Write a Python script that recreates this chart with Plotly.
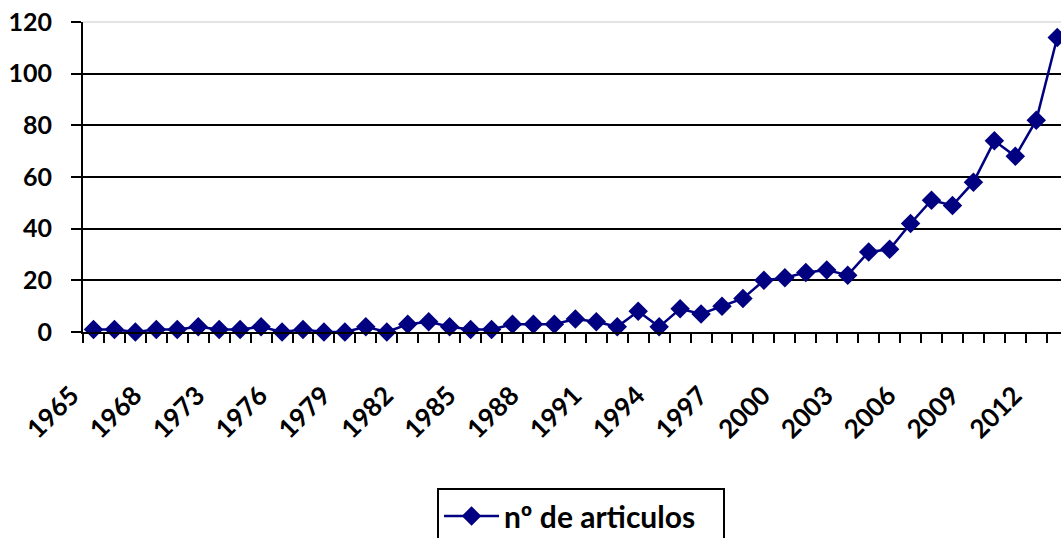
import plotly.graph_objects as go

years = ["1965", "1966", "1967", "1968", "1970", "1972", "1973", "1974", "1975", "1976",
         "1977", "1978", "1979", "1980", "1981", "1982", "1983", "1984", "1985", "1986",
         "1987", "1988", "1989", "1990", "1991", "1992", "1993", "1994", "1995", "1996",
         "1997", "1998", "1999", "2000", "2001", "2002", "2003", "2004", "2005", "2006",
         "2007", "2008", "2009", "2010", "2011", "2012", "2013"]
articulos = [1, 1, 0, 1, 1, 2, 1, 1, 2, 0,
             1, 0, 0, 2, 0, 3, 4, 2, 1, 1,
             3, 3, 3, 5, 4, 2, 8, 2, 9, 7,
             10, 13, 20, 21, 23, 24, 22, 31, 32, 42,
             51, 49, 58, 74, 68, 82, 114]
y_ticks = [0, 20, 40, 60, 80, 100, 120]
y_grid = [20, 40, 60, 80, 100]

idx = list(range(len(years)))
label_idx = idx[::3]
label_txt = [years[i] for i in label_idx]

xfont = dict(family="Lato, 'Open Sans', sans-serif", size=26, color="black", weight="bold")
yfont = dict(family="Lato, 'Open Sans', sans-serif", size=25, color="black", weight="bold")
legend_font = dict(family="Lato, 'Open Sans', sans-serif", size=30, color="black", weight="bold")

fig = go.Figure()
fig.add_trace(go.Scatter(
    x=idx, y=articulos, mode="lines+markers", name="nº de articulos\u00a0\u00a0\u00a0",
    line=dict(color="#000080", width=2.5),
    marker=dict(symbol="diamond", size=15, color="#000080"),
    cliponaxis=False,
))

fig.update_layout(
    width=1061, height=538,
    margin=dict(l=83, r=0, t=22, b=206, autoexpand=False),
    paper_bgcolor="white", plot_bgcolor="white",
    font=yfont,
    showlegend=True,
    legend=dict(x=0.362, xanchor="left", y=-0.503, yanchor="top",
                orientation="h", bordercolor="black", borderwidth=2,
                itemwidth=55, font=legend_font, bgcolor="white"),
    xaxis=dict(range=[-0.5, 46.18], tickmode="array", tickvals=label_idx,
               ticktext=label_txt, tickangle=-45, ticks="", showgrid=False,
               zeroline=False, showline=True, linecolor="black", linewidth=2,
               ticklabelstandoff=36, ticklabelshift=-22, tickfont=xfont,
               automargin=False, ticklabeloverflow="allow",
               minor=dict(dtick=1, tick0=-0.5, ticks="outside", ticklen=9,
                          tickwidth=2, tickcolor="black", showgrid=False)),
    yaxis=dict(range=[0, 120], tickmode="array", tickvals=y_ticks,
               ticks="outside", ticklen=10, tickwidth=2, tickcolor="black",
               showgrid=False, zeroline=False, showline=True, linecolor="black",
               linewidth=2, ticklabelstandoff=14, tickfont=yfont,
               automargin=False, ticklabeloverflow="allow",
               minor=dict(tickvals=y_grid, showgrid=True, gridcolor="black",
                          gridwidth=2, ticks="")),
    shapes=[dict(type="line", xref="paper", yref="paper", x0=0, x1=1, y0=1, y1=1,
                 line=dict(color="#c8c8c8", width=1), layer="below")],
)

fig.write_html("out.html", config={"displayModeBar": False},
               post_script="document.body.style.margin='0';document.body.style.overflow='hidden';")
